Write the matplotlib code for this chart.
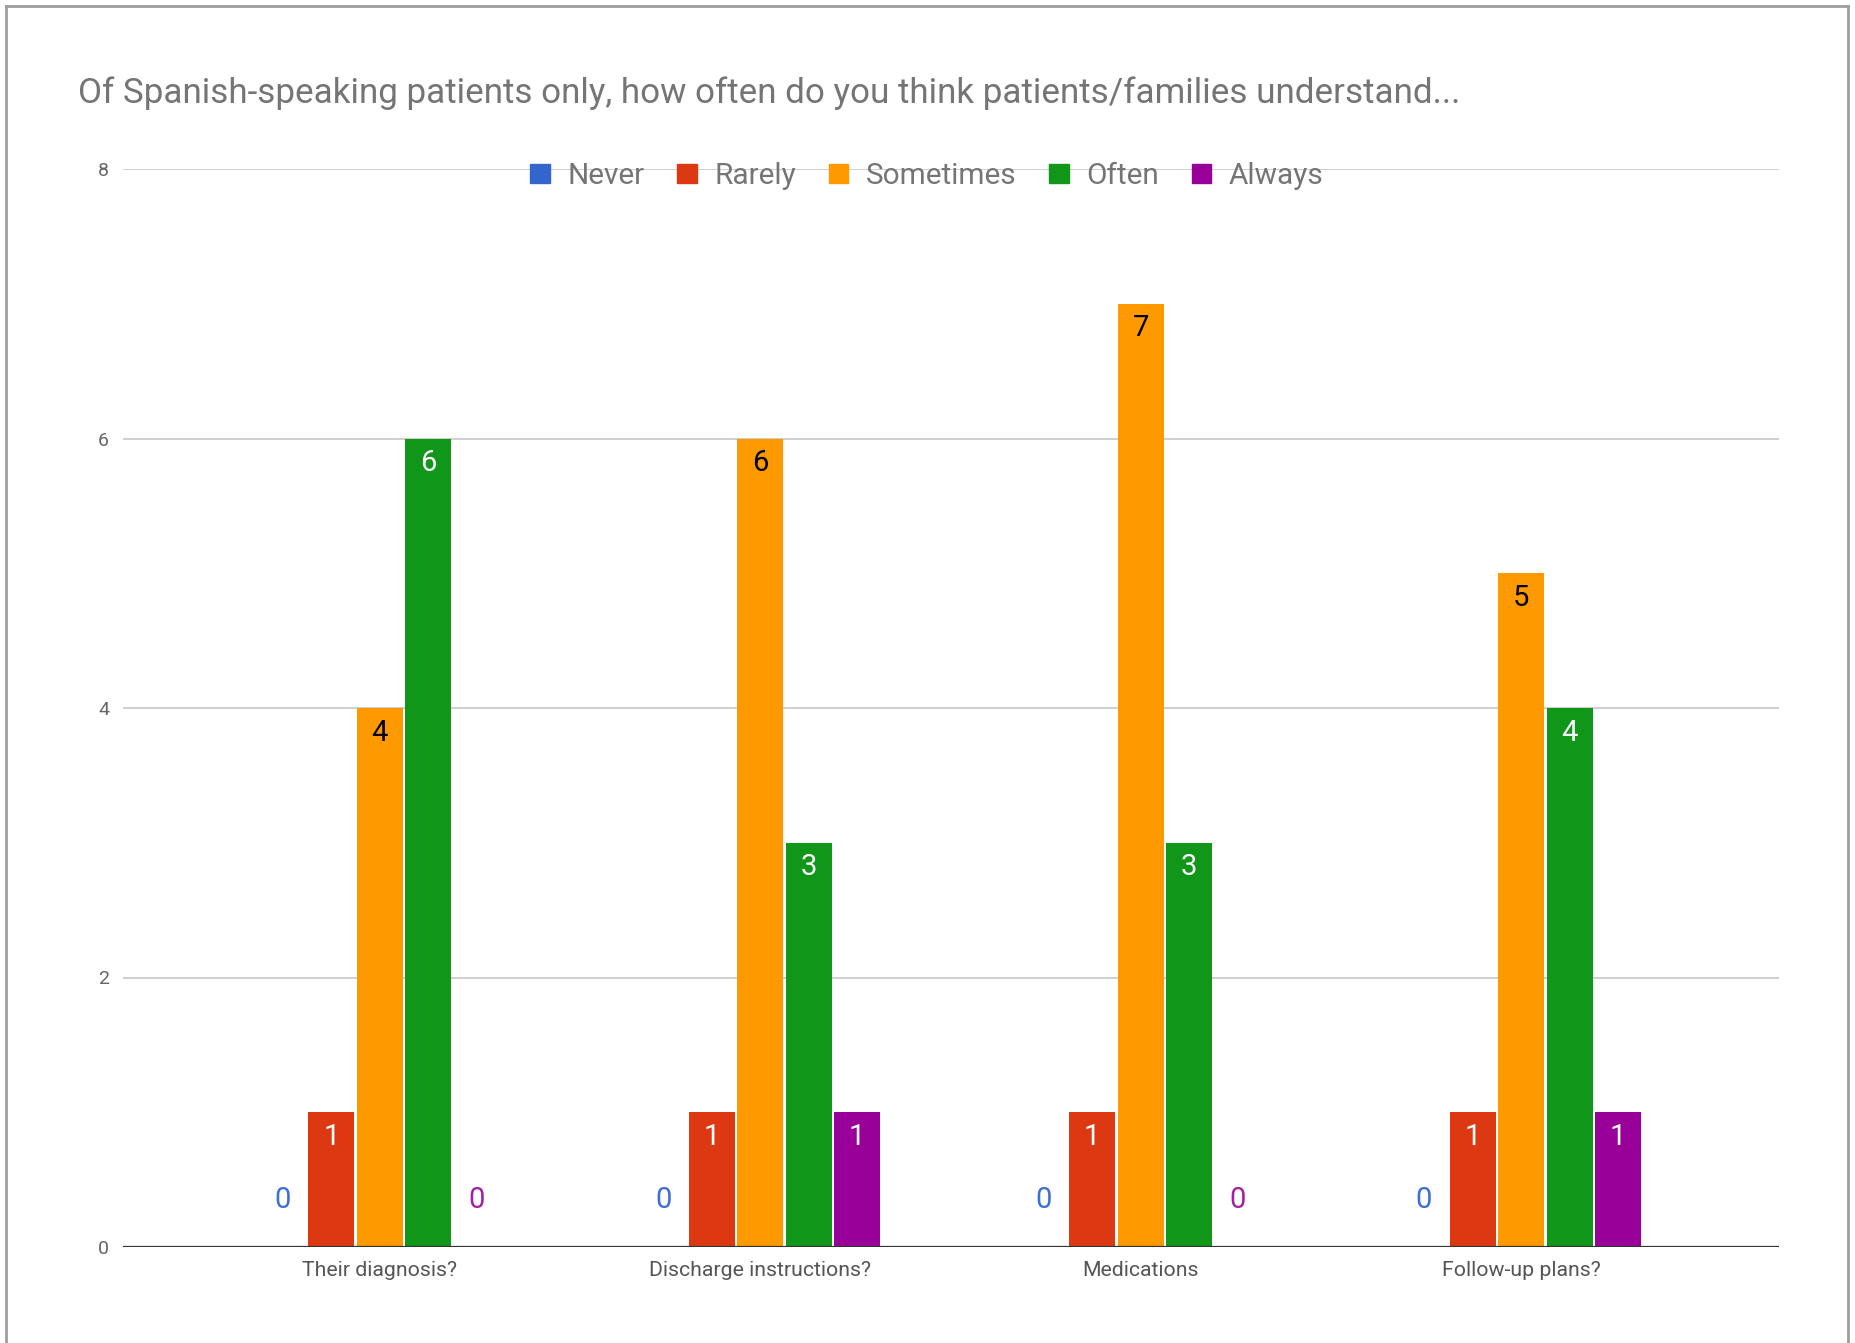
import numpy as np
import matplotlib
matplotlib.use("Agg")
import matplotlib.pyplot as plt
from matplotlib.patches import Patch
from matplotlib.lines import Line2D

plt.rcParams['font.family'] = ['Roboto', 'DejaVu Sans']

# data
questions = ["Their diagnosis?", "Discharge instructions?", "Medications", "Follow-up plans?"]
series = ["Never", "Rarely", "Sometimes", "Often", "Always"]
never = [0, 0, 0, 0]
rarely = [1, 1, 1, 1]
sometimes = [4, 6, 7, 5]
often = [6, 3, 3, 4]
always = [0, 1, 0, 1]

colors = ["#3366cc", "#dc3912", "#ff9900", "#109618", "#990099"]
zero_colors = ["#3d6fd6", "#c0392b", "#e69500", "#109618", "#a21fa6"]
inside_colors = ["white", "white", "black", "white", "white"]

fig = plt.figure(figsize=(18.55, 13.43), dpi=100)
ax = fig.add_axes([123 / 1855, 96 / 1343, (1779 - 123) / 1855, (1247 - 169) / 1343])

x = np.arange(len(questions))
pitch = 0.1275
width = 0.121
all_vals = [never, rarely, sometimes, often, always]

for i, vals in enumerate(all_vals):
    xs = x + (i - 2) * pitch
    ax.bar(xs, vals, width=width, color=colors[i], zorder=3)
    for xi, v in zip(xs, vals):
        if v == 0:
            ax.annotate(str(v), (xi, 0), xytext=(0, 28), textcoords="offset points",
                        ha="center", va="baseline", fontsize=21, color=zero_colors[i], zorder=4)
        else:
            ax.annotate(str(v), (xi, v), xytext=(0, -23.5), textcoords="offset points",
                        ha="center", va="baseline", fontsize=21, color=inside_colors[i], zorder=4)

ax.set_xlim(-0.675, 3.678)
ax.set_ylim(0, 8)
ax.set_yticks([0, 2, 4, 6, 8])
ax.yaxis.grid(True, color="#cccccc", linewidth=1.3, zorder=0)
ax.set_axisbelow(True)
ax.axhline(0, color="#333333", linewidth=1.6, zorder=5)
for s in ax.spines.values():
    s.set_visible(False)
ax.tick_params(axis="both", length=0)
ax.tick_params(axis="y", labelsize=14, labelcolor="#666666", pad=10)
ax.set_xticks(x)
ax.set_xticklabels(questions, fontsize=15.3, color="#555555")
ax.tick_params(axis="x", pad=10)

fig.text(78 / 1855, 1 - 93 / 1343,
         "Of Spanish-speaking patients only, how often do you think patients/families understand...",
         fontsize=25.2, color="#757575", ha="left", va="center")

handles = [Patch(facecolor=c, edgecolor=c) for c in colors]
fig.legend(handles, series, loc="center", bbox_to_anchor=(927 / 1855, 1 - 176 / 1343),
           ncol=5, frameon=False, fontsize=21.4, labelcolor="#757575",
           handlelength=0.65, handleheight=0.65, handletextpad=0.6, columnspacing=1.1)

# outer frame (no bottom edge)
fl = dict(color="#9e9e9e", linewidth=2, transform=fig.transFigure)
fig.add_artist(Line2D([6 / 1855, 6 / 1855], [0, 1 - 6 / 1343], **fl))
fig.add_artist(Line2D([6 / 1855, 1848 / 1855], [1 - 6 / 1343, 1 - 6 / 1343], **fl))
fig.add_artist(Line2D([1848 / 1855, 1848 / 1855], [0, 1 - 6 / 1343], **fl))

fig.savefig("out.png", dpi=100, facecolor="white")
